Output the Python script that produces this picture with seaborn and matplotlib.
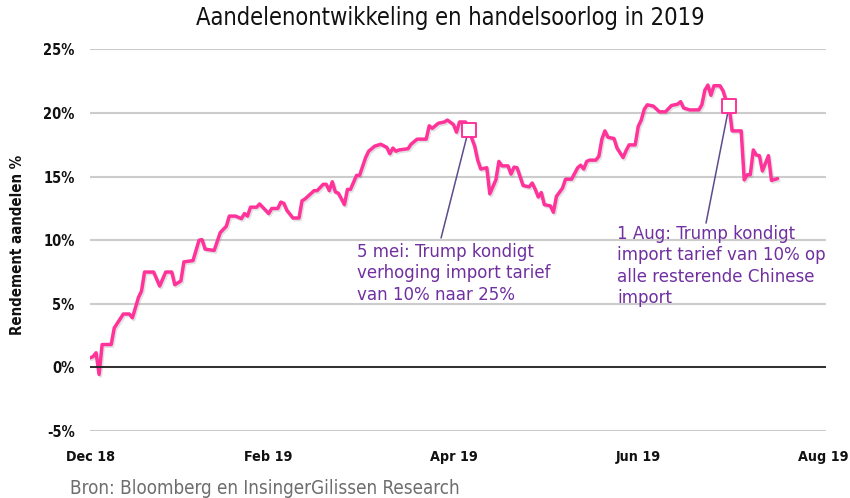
import pandas as pd
import matplotlib.pyplot as plt
import matplotlib.patheffects as pe
import matplotlib.transforms as mtransforms
import seaborn as sns

# Data (cumulative return in %, daily)
dates = [
    '2018-12-31', '2019-01-01', '2019-01-02', '2019-01-03', '2019-01-04', '2019-01-07',
    '2019-01-08', '2019-01-11', '2019-01-13', '2019-01-14', '2019-01-16', '2019-01-17',
    '2019-01-18', '2019-01-21', '2019-01-23', '2019-01-25', '2019-01-27', '2019-01-28',
    '2019-01-30', '2019-01-31', '2019-02-03', '2019-02-05', '2019-02-06', '2019-02-07',
    '2019-02-10', '2019-02-12', '2019-02-14', '2019-02-15', '2019-02-17', '2019-02-19',
    '2019-02-20', '2019-02-21', '2019-02-22', '2019-02-24', '2019-02-25', '2019-02-26',
    '2019-02-28', '2019-03-01', '2019-03-03', '2019-03-04', '2019-03-05', '2019-03-06',
    '2019-03-08', '2019-03-10', '2019-03-11', '2019-03-12', '2019-03-15', '2019-03-16',
    '2019-03-18', '2019-03-19', '2019-03-20', '2019-03-21', '2019-03-22', '2019-03-23',
    '2019-03-25', '2019-03-26', '2019-03-27', '2019-03-29', '2019-03-30', '2019-04-01',
    '2019-04-02', '2019-04-04', '2019-04-06', '2019-04-08', '2019-04-09', '2019-04-10',
    '2019-04-11', '2019-04-12', '2019-04-15', '2019-04-16', '2019-04-18', '2019-04-21',
    '2019-04-22', '2019-04-23', '2019-04-25', '2019-04-27', '2019-04-28', '2019-04-30',
    '2019-05-01', '2019-05-02', '2019-05-04', '2019-05-05', '2019-05-07', '2019-05-08',
    '2019-05-09', '2019-05-11', '2019-05-12', '2019-05-14', '2019-05-15', '2019-05-16',
    '2019-05-18', '2019-05-19', '2019-05-20', '2019-05-21', '2019-05-23', '2019-05-25',
    '2019-05-26', '2019-05-27', '2019-05-28', '2019-05-29', '2019-05-30', '2019-06-01',
    '2019-06-02', '2019-06-03', '2019-06-05', '2019-06-06', '2019-06-08', '2019-06-10',
    '2019-06-11', '2019-06-12', '2019-06-13', '2019-06-14', '2019-06-16', '2019-06-17',
    '2019-06-18', '2019-06-19', '2019-06-20', '2019-06-22', '2019-06-23', '2019-06-25',
    '2019-06-26', '2019-06-27', '2019-06-29', '2019-06-30', '2019-07-01', '2019-07-02',
    '2019-07-03', '2019-07-05', '2019-07-07', '2019-07-09', '2019-07-11', '2019-07-13',
    '2019-07-14', '2019-07-15', '2019-07-17', '2019-07-20', '2019-07-21', '2019-07-22',
    '2019-07-23', '2019-07-24', '2019-07-25', '2019-07-27', '2019-07-28', '2019-07-29',
    '2019-07-30', '2019-07-31', '2019-08-03', '2019-08-04', '2019-08-05', '2019-08-06',
    '2019-08-07', '2019-08-08', '2019-08-09', '2019-08-10', '2019-08-12', '2019-08-13',
    '2019-08-15',
]
returns = [
    0.75, 0.85, 1.15, -0.55, 1.8, 1.8,
    3.1, 4.2, 4.2, 3.9, 5.5, 6.0,
    7.5, 7.5, 6.4, 7.5, 7.5, 6.5,
    6.8, 8.3, 8.4, 10.0, 10.05, 9.3,
    9.2, 10.6, 11.1, 11.9, 11.9, 11.7,
    12.1, 11.9, 12.6, 12.6, 12.85, 12.6,
    12.1, 12.5, 12.5, 13.0, 12.9, 12.35,
    11.75, 11.75, 13.1, 13.25, 13.9, 13.9,
    14.4, 14.4, 13.9, 14.6, 13.8, 13.7,
    12.8, 14.0, 14.0, 15.1, 15.1, 16.5,
    17.0, 17.4, 17.55, 17.3, 16.8, 17.25,
    17.0, 17.1, 17.2, 17.55, 17.95, 17.95,
    19.0, 18.8, 19.2, 19.3, 19.45, 19.1,
    18.5, 19.3, 19.3, 18.7, 17.4, 16.3,
    15.6, 15.7, 13.65, 14.75, 16.2, 15.85,
    15.85, 15.2, 15.75, 15.7, 14.3, 14.2,
    14.5, 14.0, 13.4, 13.75, 12.8, 12.7,
    12.2, 13.45, 14.1, 14.8, 14.8, 15.7,
    15.9, 15.6, 16.2, 16.3, 16.3, 16.6,
    17.95, 18.6, 18.1, 18.0, 17.25, 16.5,
    17.05, 17.5, 17.5, 18.95, 19.45, 20.3,
    20.65, 20.55, 20.1, 20.1, 20.6, 20.7,
    20.9, 20.4, 20.25, 20.25, 20.65, 21.8,
    22.2, 21.4, 22.15, 22.15, 21.75, 21.0,
    20.55, 18.6, 18.6, 14.75, 15.15, 15.15,
    17.1, 16.7, 16.65, 15.45, 16.65, 14.7,
    14.85,
]

event_dates = ['2019-05-05', '2019-07-30']
event_texts = [
    '5 mei: Trump kondigt\nverhoging import tarief\nvan 10% naar 25%',
    '1 Aug: Trump kondigt\nimport tarief van 10% op\nalle resterende Chinese\nimport',
]

y_ticks = [-5, 0, 5, 10, 15, 20, 25]
x_tick_dates = ['2018-12-31', '2019-02-28', '2019-04-30', '2019-06-30', '2019-08-31']
x_tick_labels = ['Dec 18', 'Feb 19', 'Apr 19', 'Jun 19', 'Aug 19']

pink = '#ff3399'
purple = '#7030a0'
line_purple = '#5d4b8c'

sns.set_style('white')
plt.rcParams['font.family'] = ['DejaVu Sans']
plt.rcParams['font.stretch'] = 'condensed'

df = pd.DataFrame({'datum': pd.to_datetime(dates), 'rendement': returns})

fig = plt.figure(figsize=(8.5, 4.98), dpi=100)
ax = fig.add_axes([90 / 850, 1 - 431 / 498, 736 / 850, 381.5 / 498])

sns.lineplot(data=df, x='datum', y='rendement', color=pink, lw=2.5, ax=ax,
             path_effects=[pe.SimpleLineShadow(offset=(1, -1.2), shadow_color='#888888', alpha=0.25),
                           pe.Normal()])

# event markers
events = df[df['datum'].isin(pd.to_datetime(event_dates))]
sns.scatterplot(data=events, x='datum', y='rendement', marker='s', s=95, color='white',
                edgecolor=pink, linewidth=1.4, zorder=5, ax=ax)

# connector lines and annotation texts
line_ends = [(0.477, 0.506), (0.837, 0.545)]
text_pos = [(0.363, 0.493), (0.716, 0.541)]
for (_, row), end, pos, txt in zip(events.iterrows(), line_ends, text_pos, event_texts):
    ax.annotate('', xy=(row['datum'], row['rendement']), xytext=end, textcoords='axes fraction',
                arrowprops=dict(arrowstyle='-', color=line_purple, lw=1.1, shrinkA=0, shrinkB=6),
                zorder=4)
    ax.text(pos[0], pos[1], txt, transform=ax.transAxes, ha='left', va='top',
            color=purple, fontsize=13.3, linespacing=1.25)

ax.set_xlim(pd.Timestamp('2018-12-31'), pd.Timestamp('2019-08-31'))
ax.set_ylim(-5, 25)

ax.set_yticks(y_ticks)
ax.set_yticklabels([f'{v}%' for v in y_ticks], fontweight='bold', fontsize=10.5, color='#111111')
ax.set_xticks(pd.to_datetime(x_tick_dates))
ax.set_xticklabels(x_tick_labels, fontweight='bold', fontsize=10.3, color='#111111')
ax.tick_params(axis='y', length=0, pad=11)
ax.tick_params(axis='x', length=0, pad=14)

# keep the last x label inside the figure
last = ax.get_xticklabels()[-1]
last.set_transform(last.get_transform() + mtransforms.ScaledTranslation(-3 / 100, 0, fig.dpi_scale_trans))

ax.yaxis.grid(True, color='#cccccc', lw=1.5)
ax.xaxis.grid(False)
ax.axhline(0, color='#222222', lw=1.3, zorder=2)
sns.despine(ax=ax, left=True, bottom=True)

ax.set_xlabel('')
ax.set_ylabel('Rendement aandelen %', fontweight='bold', fontsize=10.8, color='#111111')
ax.yaxis.set_label_coords((25 - 90) / 736, (431 - 245) / 381.5)

fig.text(450 / 850, 1 - 18 / 498, 'Aandelenontwikkeling en handelsoorlog in 2019',
         ha='center', va='center', fontsize=17, color='#111111')
fig.text(70 / 850, 1 - 488 / 498, 'Bron: Bloomberg en InsingerGilissen Research',
         ha='left', va='center', fontsize=13.5, color='#6e6e6e')

fig.savefig('out.png', dpi=100)
